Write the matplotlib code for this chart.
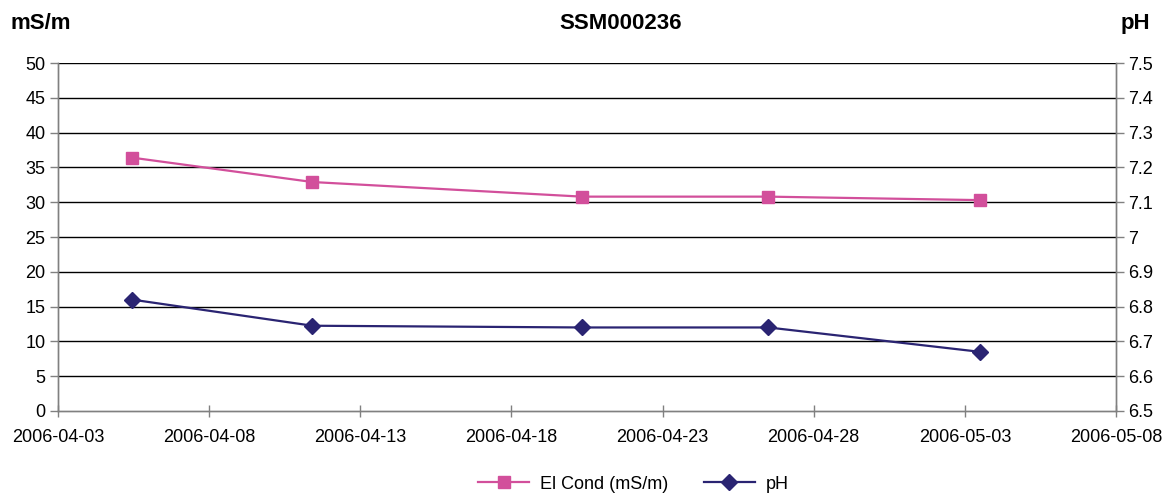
import matplotlib
matplotlib.use("Agg")
import matplotlib.pyplot as plt
import matplotlib.dates as mdates
from datetime import datetime

plt.rcParams['font.family'] = ['Liberation Sans', 'DejaVu Sans']

# sampling times and measured values
dates = [datetime(2006, 4, 5, 11), datetime(2006, 4, 11, 10), datetime(2006, 4, 20, 8),
         datetime(2006, 4, 26, 12), datetime(2006, 5, 3, 12)]
cond = [36.4, 32.9, 30.8, 30.8, 30.3]
ph = [6.82, 6.745, 6.74, 6.74, 6.67]

xticks = [datetime(2006, 4, 3), datetime(2006, 4, 8), datetime(2006, 4, 13), datetime(2006, 4, 18),
          datetime(2006, 4, 23), datetime(2006, 4, 28), datetime(2006, 5, 3), datetime(2006, 5, 8)]
cond_ticks = list(range(0, 51, 5))
ph_ticks = [6.5, 6.6, 6.7, 6.8, 6.9, 7.0, 7.1, 7.2, 7.3, 7.4, 7.5]
ph_labels = ['6.5', '6.6', '6.7', '6.8', '6.9', '7', '7.1', '7.2', '7.3', '7.4', '7.5']

pink = '#D24F9B'
navy = '#2A2472'
gray = '#808080'
fs = 13

fig = plt.figure(figsize=(11.71, 4.99), dpi=100)
ax = fig.add_axes([0.0495, 0.1764, 0.9035, 0.6973])
ax2 = ax.twinx()

for y in cond_ticks[1:]:
    ax.axhline(y, color='black', lw=1.0, zorder=1)

l1, = ax.plot(dates, cond, color=pink, lw=1.6, marker='s', markersize=8.5,
              markeredgecolor=pink, zorder=3, label='El Cond (mS/m)')
l2, = ax2.plot(dates, ph, color=navy, lw=1.6, marker='D', markersize=8.5,
               markeredgecolor=navy, zorder=3, label='pH')

ax.set_xlim(xticks[0], xticks[-1])
ax.set_xticks(xticks)
ax.xaxis.set_major_formatter(mdates.DateFormatter('%Y-%m-%d'))
ax.set_ylim(0, 50)
ax.set_yticks(cond_ticks)
ax2.set_ylim(6.5, 7.5)
ax2.set_yticks(ph_ticks)
ax2.set_yticklabels(ph_labels)

for a in (ax, ax2):
    a.spines['top'].set_visible(False)
    for s in ('left', 'right', 'bottom'):
        a.spines[s].set_color(gray)
        a.spines[s].set_linewidth(1.0)
    a.tick_params(labelsize=fs, colors='black', length=6, width=1.0)
    a.tick_params(axis='both', color=gray)
ax.tick_params(axis='x', direction='inout', length=8, pad=9)
ax.tick_params(axis='y', pad=3)
ax2.tick_params(axis='y', pad=3)

fig.text(0.53, 0.952, 'SSM000236', ha='center', va='center', fontsize=16, fontweight='bold')
fig.text(0.009, 0.952, 'mS/m', ha='left', va='center', fontsize=16, fontweight='bold')
fig.text(0.982, 0.952, 'pH', ha='right', va='center', fontsize=16, fontweight='bold')

fig.legend(handles=[l1, l2], loc='center', bbox_to_anchor=(0.541, 0.03), ncol=2,
           frameon=False, fontsize=fs, handlelength=2.8, columnspacing=2.0, handletextpad=0.6)

fig.savefig('out.png', dpi=100)
